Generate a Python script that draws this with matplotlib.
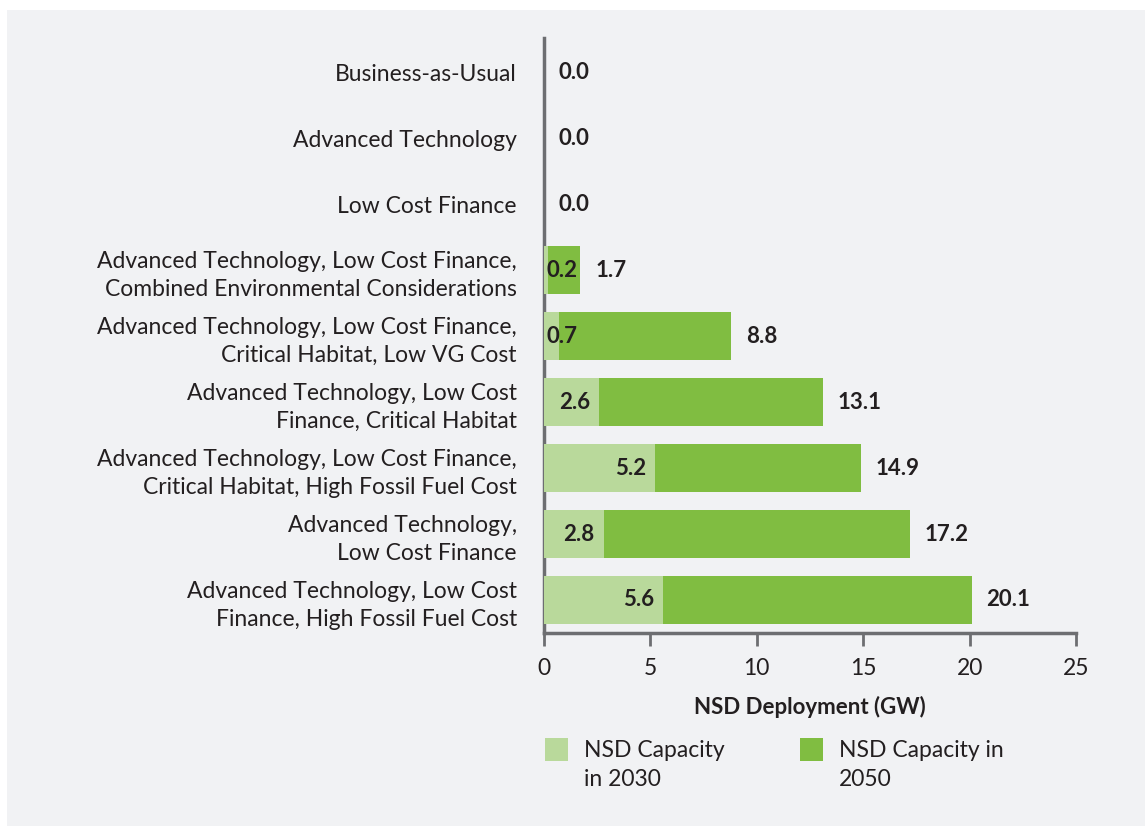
import matplotlib.pyplot as plt
from matplotlib.patches import Rectangle
import numpy as np

plt.rcParams['font.family'] = ['Lato', 'DejaVu Sans']

scenarios = [
    "Business-as-Usual",
    "Advanced Technology",
    "Low Cost Finance",
    "Advanced Technology, Low Cost Finance,\nCombined Environmental Considerations",
    "Advanced Technology, Low Cost Finance,\nCritical Habitat, Low VG Cost",
    "Advanced Technology, Low Cost\nFinance, Critical Habitat",
    "Advanced Technology, Low Cost Finance,\nCritical Habitat, High Fossil Fuel Cost",
    "Advanced Technology,\nLow Cost Finance",
    "Advanced Technology, Low Cost\nFinance, High Fossil Fuel Cost",
]
cap_2030 = [0.0, 0.0, 0.0, 0.2, 0.7, 2.6, 5.2, 2.8, 5.6]
cap_2050 = [0.0, 0.0, 0.0, 1.7, 8.8, 13.1, 14.9, 17.2, 20.1]
legend_labels = ["NSD Capacity\nin 2030", "NSD Capacity in\n2050"]

light_green = '#b9d99b'
dark_green = '#80bd41'
axis_grey = '#6d6e71'
text_col = '#231f20'
panel = '#f1f2f4'
fs = 16.5

W, H = 1145, 826
fig = plt.figure(figsize=(W / 100, H / 100), dpi=100, facecolor='white')


def px(x, y):
    # pixel position (from top-left) to figure fraction
    return x / W, 1 - y / H


# grey panel behind everything
fig.patches.append(Rectangle(px(7, H), 1, 1 - 10 / H, transform=fig.transFigure,
                             facecolor=panel, edgecolor='none', zorder=-10))
ax = fig.add_axes([0.4751, 0.2337, 0.4646, 0.7203])
ax.set_facecolor(panel)

y = np.arange(len(scenarios))
h = 0.73
ax.barh(y, cap_2050, height=h, color=dark_green, zorder=2)
ax.barh(y, cap_2030, height=h, color=light_green, zorder=3)

for i in range(len(scenarios)):
    ax.text(cap_2050[i] + 0.7, y[i], f"{cap_2050[i]:.1f}", ha='left', va='center',
            fontsize=fs - 0.5, fontweight='bold', color=text_col, zorder=4)
    if cap_2030[i] > 0:
        if cap_2030[i] < 1.5:
            ax.text(0.1, y[i], f"{cap_2030[i]:.1f}", ha='left', va='center',
                    fontsize=fs - 0.5, fontweight='bold', color=text_col, zorder=4)
        else:
            ax.text(cap_2030[i] - 0.42, y[i], f"{cap_2030[i]:.1f}", ha='right', va='center',
                    fontsize=fs - 0.5, fontweight='bold', color=text_col, zorder=4)

ax.set_yticks(y)
ax.set_yticklabels(scenarios, fontsize=fs, color=text_col, linespacing=1.42)
ax.set_ylim(len(scenarios) - 0.5, -0.52)
ax.set_xlim(0, 25)
ax.set_xticks([0, 5, 10, 15, 20, 25])
ax.tick_params(axis='x', length=9, width=2, color=axis_grey, labelsize=fs,
               labelcolor=text_col, pad=9)
ax.tick_params(axis='y', length=0, pad=19.5)
for s in ['top', 'right']:
    ax.spines[s].set_visible(False)
for s in ['left', 'bottom']:
    ax.spines[s].set_color(axis_grey)
    ax.spines[s].set_linewidth(2.5)
ax.set_xlabel("NSD Deployment (GW)", fontsize=fs - 0.5, fontweight='bold', color=text_col, labelpad=12)

# legend: square swatch next to the first line of a two-line label
sw = 23
for (x0, col, lbl) in [(545, light_green, legend_labels[0]), (800, dark_green, legend_labels[1])]:
    fig.patches.append(Rectangle(px(x0, 738 + sw), sw / W, sw / H, transform=fig.transFigure,
                                 facecolor=col, edgecolor='none'))
    fig.text(*px(x0 + 39, 740), lbl, ha='left', va='top', fontsize=fs,
             color=text_col, linespacing=1.45, transform=fig.transFigure)

fig.savefig('out.png', dpi=100, facecolor=fig.get_facecolor())
